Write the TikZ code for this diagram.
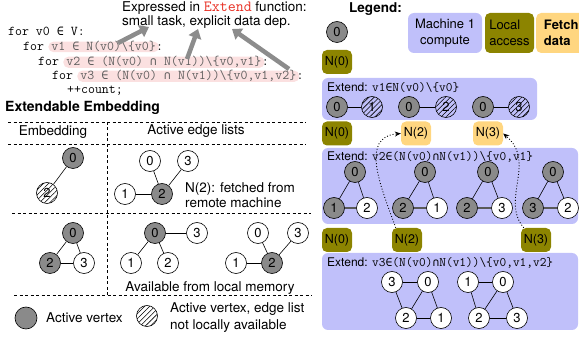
\documentclass[tikz,border=0pt]{standalone}
\usepackage{fontspec}
\setmainfont{TeX Gyre Heros}
\newfontfamily\djmono{DejaVu Sans Mono}[Scale=0.872]
\usetikzlibrary{arrows.meta,patterns.meta}
\definecolor{nodegray}{RGB}{138,138,138}
\definecolor{lav}{RGB}{192,192,250}
\definecolor{olivebox}{RGB}{140,132,0}
\definecolor{fetch}{RGB}{255,214,128}
\definecolor{pinkhl}{RGB}{251,224,224}
\definecolor{extred}{RGB}{232,48,36}
\definecolor{arrgray}{RGB}{140,140,140}
\definecolor{codegray}{RGB}{95,95,95}
\newcommand\myin{{\djmono ∈}}
\newcommand\mycap{{\djmono ∩}}
\newcommand\bsl{\textbackslash}
\tikzset{
  vtx/.style={circle,draw,line width=0.6pt,minimum size=21pt,inner sep=0pt,font=\fontsize{13}{13}\selectfont},
  gv/.style={vtx,fill=nodegray},
  wv/.style={vtx,fill=white},
  hv/.style={vtx,pattern={Lines[angle=45,distance=3.6pt,line width=0.55pt]}},
  edge/.style={line width=0.6pt},
  hedge/.style={line width=1.3pt,draw=black!65},
  code/.style={inner sep=0pt,font=\ttfamily\fontsize{13.5}{15}\selectfont,anchor=base west},
  hl/.style={code,fill=pinkhl,rounded corners=5pt,inner xsep=3pt,inner ysep=0pt,text=codegray},
  bigarrow/.style={draw=arrgray,line width=4.5pt,-{Triangle[length=9pt,width=13pt]}},
  txt/.style={inner sep=0pt,font=\fontsize{13.5}{14.5}\selectfont},
  dline/.style={dashed,line width=0.6pt,dash pattern=on 3pt off 2.5pt},
  exbox/.style={fill=lav,rounded corners=6pt,inner sep=0pt},
  olbox/.style={fill=olivebox,rounded corners=5pt,minimum width=30pt,minimum height=24pt,inner sep=0pt,font=\fontsize{12.5}{12.5}\selectfont},
  ftbox/.style={olbox,fill=fetch},
  dotarr/.style={dotted,line width=0.9pt,-{Stealth[length=6pt,width=5pt]}},
  extlabel/.style={inner sep=0pt,anchor=base west,font=\fontsize{12}{12}\selectfont}
}
\begin{document}
\begin{tikzpicture}[x=1pt,y=-1pt]
\useasboundingbox (0,0) rectangle (579,339);

% ---------- code ----------
\node[code] (c1) at (8,36) {for v0 \myin{} V:};
\node[code] (c2) at (23,51) {for\ \kern0pt};
\node[hl,xshift=-3pt] (h2) at (c2.base east) {v1 \myin{} N(v0)\bsl\{v0\}};
\node[code,xshift=-3pt] (c2e) at (h2.base east) {:};
\node[code] (c3) at (38,66) {for\ \kern0pt};
\node[hl,xshift=-3pt] (h3) at (c3.base east) {v2 \myin{} (N(v0) \mycap{} N(v1))\bsl\{v0,v1\}};
\node[code,xshift=-3pt] (c3e) at (h3.base east) {:};
\node[code] (c4) at (52,80) {for\ \kern0pt};
\node[hl,xshift=-3pt] (h4) at (c4.base east) {v3 \myin{} (N(v0) \mycap{} N(v1))\bsl\{v0,v1,v2\}};
\node[code,xshift=-3pt] (c4e) at (h4.base east) {:};
\node[code] (c5) at (67,94) {++count;};

\node[txt,anchor=west,align=left] (expr) at (122,15) {Expressed in {\ttfamily\fontsize{15.5}{15.5}\selectfont\color{extred}Extend} function:\\small task, explicit data dep.};

\coordinate (a1s) at (118,43);
\coordinate (a1e) at (149,27);
\coordinate (a2s) at (187,59);
\coordinate (a2e) at (198,29);
\coordinate (a3s) at (289,69);
\coordinate (a3e) at (232,29);
\draw[bigarrow] (a1s) -- (a1e);
\draw[bigarrow] (a2s) -- (a2e);
\draw[bigarrow] (a3s) -- (a3e);

% ---------- Extendable Embedding table ----------
\node[txt,anchor=west,font=\bfseries\fontsize{14}{14}\selectfont] (eetitle) at (5,108) {Extendable Embedding};
\coordinate (hA1) at (8,122);  \coordinate (hA2) at (306,122);
\coordinate (hB1) at (8,144);  \coordinate (hB2) at (306,144);
\coordinate (hC1) at (12,213); \coordinate (hC2) at (311,213);
\coordinate (hD1) at (14,295); \coordinate (hD2) at (312,295);
\coordinate (vA1) at (107,122); \coordinate (vA2) at (107,295);
\draw[dline] (hA1) -- (hA2);
\draw[dline] (hB1) -- (hB2);
\draw[dline] (hC1) -- (hC2);
\draw[dline] (hD1) -- (hD2);
\draw[dline] (vA1) -- (vA2);
\node[txt] (hemb) at (53,132) {Embedding};
\node[txt] (hact) at (196,131) {Active edge lists};

% row 1
\node[gv] (r1e0) at (73,158) {0};
\node[hv] (r1e2) at (47,193) {2};
\draw[edge] (r1e0) -- (r1e2);
\node[wv] (r1a0) at (150,161) {0};
\node[wv] (r1a3) at (188,161) {3};
\node[wv] (r1a1) at (125,194) {1};
\node[gv] (r1a2) at (162,194) {2};
\draw[edge] (r1a0) -- (r1a2);
\draw[edge] (r1a3) -- (r1a2);
\draw[edge] (r1a1) -- (r1a2);
\node[txt,anchor=west,align=left] (fetchtxt) at (185,195) {N(2): fetched from\\remote machine};

% row 2
\node[gv] (r2e0) at (73,233) {0};
\node[gv] (r2e2) at (50,263) {2};
\node[wv] (r2e3) at (84,263) {3};
\draw[edge] (r2e0) -- (r2e2);
\draw[edge] (r2e0) -- (r2e3);
\draw[edge] (r2e2) -- (r2e3);
\node[gv] (r2a0) at (155,233) {0};
\node[wv] (r2a3) at (197,233) {3};
\node[wv] (r2a1) at (131,263) {1};
\node[wv] (r2a2) at (168,263) {2};
\draw[edge] (r2a0) -- (r2a3);
\draw[edge] (r2a0) -- (r2a1);
\draw[edge] (r2a0) -- (r2a2);
\node[wv] (r2b0) at (258,233) {0};
\node[wv] (r2b3) at (298,233) {3};
\node[wv] (r2b1) at (236,263) {1};
\node[gv] (r2b2) at (272,263) {2};
\draw[edge] (r2b0) -- (r2b2);
\draw[edge] (r2b3) -- (r2b2);
\draw[edge] (r2b1) -- (r2b2);
\node[txt] (avail) at (210,288) {Available from local memory};

% bottom legend
\node[vtx,fill=nodegray,minimum size=22pt] (lgv) at (26,318) {};
\node[txt,anchor=west] (lgvt) at (46,318) {Active vertex};
\node[hv] (lhv) at (147,316) {};
\node[txt,anchor=west,align=left,font=\fontsize{13.5}{17}\selectfont] (lhvt) at (170,317.5) {Active vertex, edge list\\not locally available};

% ---------- right side ----------
\node[inner sep=0pt,anchor=west,font=\bfseries\fontsize{13.5}{13.5}\selectfont] (legend) at (349,9) {Legend:};
\node[gv] (lg0) at (337,32) {0};
\node[exbox,minimum width=74pt,minimum height=40pt,align=center,font=\fontsize{13}{16}\selectfont] (mc) at (445,33) {Machine 1\\compute};
\node[olbox,minimum width=49pt,minimum height=40pt,align=left,font=\fontsize{13}{16}\selectfont] (la) at (509.5,33) {Local\\access};
\node[ftbox,anchor=west,minimum width=50pt,minimum height=40pt,align=left,font=\bfseries\fontsize{13}{16}\selectfont] (fd) at (536,33) {Fetch\\data};
\node[olbox] (n0a) at (337,62) {N(0)};

% Extend 1
\node[exbox,minimum width=215pt,minimum height=42pt] (ex1) at (429.5,99) {};
\node[extlabel] (ex1t) at (327,92) {Extend: {\ttfamily\fontsize{13}{13}\selectfont v1\myin{}N(v0)\bsl\{v0\}}};
\node[gv] (x1a) at (337,107) {0};
\node[hv] (x1b) at (372,107) {1};
\node[gv] (x1c) at (409,107) {0};
\node[hv] (x1d) at (446,107) {2};
\node[gv] (x1e) at (483,107) {0};
\node[hv] (x1f) at (519,107) {3};
\draw[edge] (x1a) -- (x1b);
\draw[edge] (x1c) -- (x1d);
\draw[edge] (x1e) -- (x1f);

% row boxes 2
\node[olbox] (n0b) at (337,133.5) {N(0)};
\node[ftbox] (n2o) at (416,133.5) {N(2)};
\node[ftbox] (n3o) at (488,133.5) {N(3)};

% Extend 2
\node[exbox,minimum width=256pt,minimum height=76pt] (ex2) at (450,186) {};
\node[extlabel] (ex2t) at (327,161) {Extend: {\ttfamily\fontsize{13}{13}\selectfont v2\myin{}(N(v0)\mycap{}N(v1))\bsl\{v0,v1\}}};
\node[gv] (t1a) at (355,172) {0};
\node[gv] (t1b) at (334,208) {1};
\node[wv] (t1c) at (367,208) {2};
\draw[edge] (t1a) -- (t1b); \draw[edge] (t1a) -- (t1c); \draw[hedge] (t1b) -- (t1c);
\node[gv] (t2a) at (425,172) {0};
\node[gv] (t2b) at (403,208) {2};
\node[wv] (t2c) at (437,208) {1};
\draw[edge] (t2a) -- (t2b); \draw[edge] (t2a) -- (t2c); \draw[hedge] (t2b) -- (t2c);
\node[gv] (t3a) at (488,172) {0};
\node[gv] (t3b) at (467,208) {2};
\node[wv] (t3c) at (502,208) {3};
\draw[edge] (t3a) -- (t3b); \draw[edge] (t3a) -- (t3c); \draw[hedge] (t3b) -- (t3c);
\node[gv] (t4a) at (553,172) {0};
\node[gv] (t4b) at (533,208) {3};
\node[wv] (t4c) at (568,208) {2};
\draw[edge] (t4a) -- (t4b); \draw[edge] (t4a) -- (t4c); \draw[hedge] (t4b) -- (t4c);

% row boxes 3
\node[olbox] (n0c) at (337,240) {N(0)};
\node[olbox] (n2l) at (407,240) {N(2)};
\node[olbox] (n3l) at (536,240) {N(3)};

% Extend 3
\node[exbox,minimum width=256pt,minimum height=77pt] (ex3) at (450,291.5) {};
\node[extlabel] (ex3t) at (327,267) {Extend: {\ttfamily\fontsize{13}{13}\selectfont v3\myin{}(N(v0)\mycap{}N(v1))\bsl\{v0,v1,v2\}}};
\node[wv] (ga3) at (392,282) {3};
\node[wv] (ga0) at (428,282) {0};
\node[wv] (ga2) at (406,318) {2};
\node[wv] (ga1) at (441,318) {1};
\draw[edge] (ga3) -- (ga0); \draw[edge] (ga3) -- (ga2); \draw[edge] (ga0) -- (ga2);
\draw[edge] (ga0) -- (ga1); \draw[edge] (ga2) -- (ga1);
\node[wv] (gb1) at (468,282) {1};
\node[wv] (gb0) at (503,282) {0};
\node[wv] (gb2) at (479,318) {2};
\node[wv] (gb3) at (517,318) {3};
\draw[edge] (gb1) -- (gb0); \draw[edge] (gb1) -- (gb2); \draw[edge] (gb0) -- (gb2);
\draw[edge] (gb0) -- (gb3); \draw[edge] (gb2) -- (gb3);

% dotted fetch arrows
\draw[dotarr] ([xshift=4pt]n2l.north west) .. controls (380,185) and (360,137) .. (n2o.west);
\draw[dotarr] ([xshift=3pt]n3l.north west) .. controls (500,200) and (537,162) .. (n3o.east);
\end{tikzpicture}
\end{document}
